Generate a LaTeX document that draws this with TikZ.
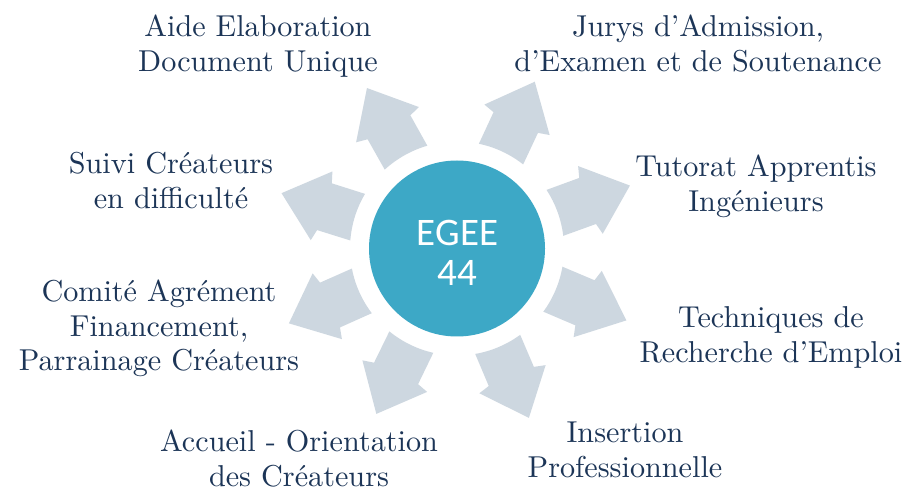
\documentclass[tikz,border=0pt]{standalone}
\usepackage{fontspec}
\newfontfamily\carlito{Carlito}
\newfontfamily\lblfont{lmroman10-regular}[Extension=.otf]
\definecolor{txtnavy}{HTML}{1C3557}
\definecolor{arrowgray}{HTML}{CDD7E0}
\definecolor{hubteal}{HTML}{3DA8C6}
\newcommand{\stacklines}[1]{\vtop{\halign{\hfil##\hfil\cr#1\crcr}}}
\tikzset{
  lbl/.style={anchor=base, inner sep=0pt, text=txtnavy, font=\lblfont\fontsize{30.2}{34.5}\selectfont},
  radarrow/.style={fill=arrowgray, draw=none},
}
\newcommand{\radialarrow}[1]{%
  \begin{scope}[shift={(457,243.5)}, rotate=#1]
    \path[radarrow] (-13.2:107) arc[start angle=-13.2, end angle=13.2, radius=107pt]
      -- (139,24.5) -- (142,36) -- (184,0) -- (142,-36) -- (139,-24.5) -- cycle;
  \end{scope}}
\begin{document}
\begin{tikzpicture}[x=1pt,y=1pt]
\useasboundingbox (0,0) rectangle (912,492);
\fill[white] (0,0) rectangle (912,492);
% arrows
\radialarrow{20}
\radialarrow{65}
\radialarrow{119.3}
\radialarrow{162.5}
\radialarrow{204}
\radialarrow{244}
\radialarrow{293}
\radialarrow{337}
% hub
\node[circle, fill=hubteal, minimum size=176pt, inner sep=0pt] (hub) at (457,243.5) {};
\node[anchor=base, inner sep=0pt, text=white, font=\carlito\fontsize{39}{40}\selectfont] (hubtext) at (457.5,246) {\stacklines{EGEE\cr 44}};
% labels
\node[lbl] (aide) at (258,455) {\stacklines{Aide Elaboration\cr Document Unique}};
\node[lbl] (jurys) at (698,455) {\stacklines{Jurys d’Admission,\cr d’Examen et de Soutenance}};
\node[lbl] (tutorat) at (756,315) {\stacklines{Tutorat Apprentis\cr Ingénieurs}};
\node[lbl] (techniques) at (771,164) {\stacklines{Techniques de\cr Recherche d’Emploi}};
\node[lbl] (insertion) at (625,49) {\stacklines{Insertion\cr Professionnelle}};
\node[lbl] (accueil) at (299,40) {\stacklines{Accueil - Orientation\cr des Créateurs}};
\node[lbl] (comite) at (159,190) {\stacklines{Comité Agrément\cr Financement,\cr Parrainage Créateurs}};
\node[lbl] (suivi) at (171,318) {\stacklines{Suivi Créateurs\cr en difficulté}};
\end{tikzpicture}
\end{document}
